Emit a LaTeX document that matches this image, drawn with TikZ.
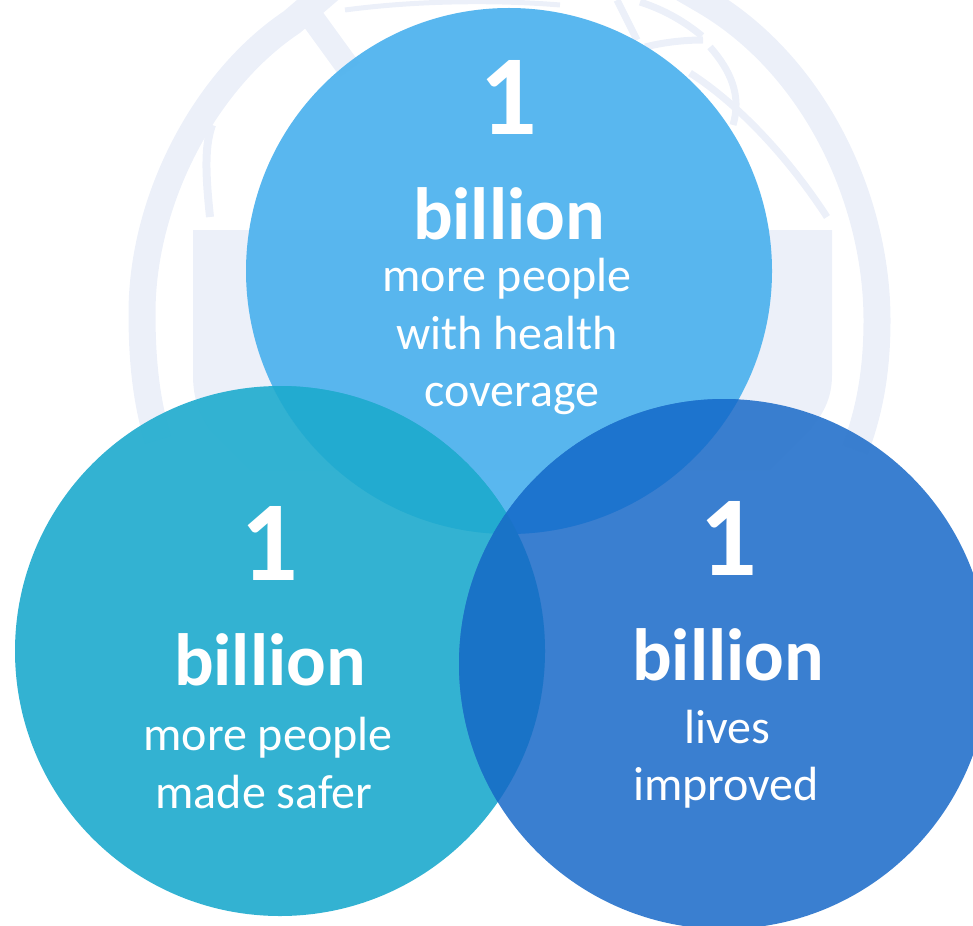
\documentclass[tikz,border=0pt]{standalone}
\usepackage{fontspec}
\setmainfont{Carlito}
\definecolor{wm}{HTML}{ECF0F9}
\definecolor{ctop}{HTML}{54B5EE}
\definecolor{cleft}{HTML}{2CB0D1}
\definecolor{cright}{HTML}{347BCE}
\definecolor{ovtl}{HTML}{22ABD0}
\definecolor{ovtr}{HTML}{1D74CE}
\definecolor{ovlr}{HTML}{1973C7}
\tikzset{
  wmline/.style={draw=wm,line width=#1,line cap=butt},
  bubble/.style={fill opacity=0.97},
  numtxt/.style={text=white,font=\fontsize{114}{114}\selectfont\bfseries,inner sep=0pt,anchor=base},
  bigtxt/.style={text=white,font=\fontsize{74}{74}\selectfont\bfseries,inner sep=0pt,anchor=base},
  subtxt/.style={text=white,font=\fontsize{48}{48}\selectfont,inner sep=0pt,anchor=base},
}
\begin{document}
\begin{tikzpicture}[x=1pt,y=-1pt]
\useasboundingbox (0,0) rectangle (973,925);
\clip (0,0) rectangle (973,925);
% watermark
\draw[wmline=27pt] (335,-15) -- (292,22) .. controls (205,80) and (142,200) .. (142,313) .. controls (142,360) and (146,400) .. (158,440);
\draw[wmline=27pt] (660,-25) -- (703,0) .. controls (815,65) and (877,200) .. (877,320) .. controls (877,370) and (870,410) .. (855,450);
\fill[wm] (193,230) -- (832,230) -- (832,375) .. controls (832,400) and (822,415) .. (810,430) -- (770,470) -- (250,470) -- (210,430) .. controls (200,415) and (193,400) .. (193,375) -- cycle;
\draw[wmline=8pt] (210,217) .. controls (205,170) and (205,145) .. (212,125);
\draw[wmline=24pt] (305,8) -- (350,70);
\draw[wmline=5pt] (345,10) .. controls (420,0) and (500,0) .. (560,5);
\draw[wmline=7pt] (617,0) -- (637,40);
\draw[wmline=7pt] (645,47) .. controls (665,42) and (685,40) .. (703,40);
\draw[wmline=7pt] (640,2) .. controls (665,10) and (685,22) .. (702,36);
\draw[wmline=7pt] (710,47) .. controls (730,70) and (742,95) .. (733,125);
\draw[wmline=7pt] (690,73) .. controls (740,105) and (790,160) .. (827,217);
% circles
\fill[ctop,bubble] (509,271) circle[radius=263];
\fill[cleft,bubble] (280,651) circle[radius=265];
\fill[cright,bubble] (724,664) circle[radius=265];
% overlaps
\begin{scope}
\clip (509,271) circle[radius=263];
\fill[ovtl] (280,651) circle[radius=265];
\fill[ovtr] (724,664) circle[radius=265];
\end{scope}
\begin{scope}
\clip (280,651) circle[radius=265];
\fill[ovlr] (724,664) circle[radius=265];
\end{scope}
% text
\node[numtxt] (t1) at (508,135) {1};
\node[bigtxt] (t2) at (509,239) {billion};
\node[subtxt] (t3) at (507,291) {more people};
\node[subtxt] (t4) at (507,349) {with health};
\node[subtxt] (t5) at (512,406) {coverage};
\node[numtxt] (l1) at (269,580) {1};
\node[bigtxt] (l2) at (270,685) {billion};
\node[subtxt] (l3) at (268,750) {more people};
\node[subtxt] (l4) at (264,808) {made safer};
\node[numtxt] (r1) at (728,575) {1};
\node[bigtxt] (r2) at (728,680) {billion};
\node[subtxt] (r3) at (727,743) {lives};
\node[subtxt] (r4) at (726,800) {improved};
\end{tikzpicture}
\end{document}
